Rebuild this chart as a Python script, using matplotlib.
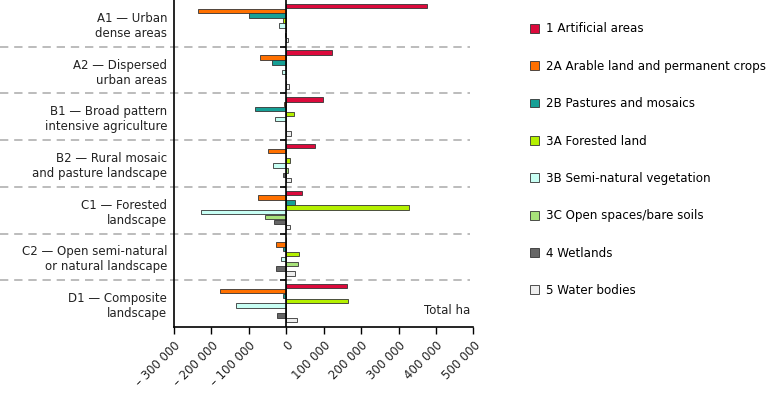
import numpy as np
import matplotlib.pyplot as plt
from matplotlib.patches import Patch
from matplotlib.lines import Line2D

# Landscape types (top to bottom)
groups = ["A1 \u2014 Urban\ndense areas",
          "A2 \u2014 Dispersed\nurban areas",
          "B1 \u2014 Broad pattern\nintensive agriculture",
          "B2 \u2014 Rural mosaic\nand pasture landscape",
          "C1 \u2014 Forested\nlandscape",
          "C2 \u2014 Open semi-natural\nor natural landscape",
          "D1 \u2014 Composite\nlandscape"]

series = ["1 Artificial areas",
          "2A Arable land and permanent crops",
          "2B Pastures and mosaics",
          "3A Forested land",
          "3B Semi-natural vegetation",
          "3C Open spaces/bare soils",
          "4 Wetlands",
          "5 Water bodies"]

colors = ["#dc0a3c", "#ff7000", "#16a096", "#b4f000",
          "#c8fff4", "#a8e27a", "#666666", "#eeeeee"]

# net change in ha, one list per landscape type, order as in `series`
a1 = [375000, -235000, -100000, -9000, -20000, 0, -4000, 5000]
a2 = [123000, -71000, -39000, 0, -12500, 0, 0, 6000]
b1 = [98000, -7000, -83000, 20000, -30000, 0, -2000, 11500]
b2 = [76000, -48000, 0, 9000, -36500, 3500, -10000, 11500]
c1 = [42000, -75500, 23000, 329000, -227000, -57000, -34000, 9000]
c2 = [-2000, -27500, -10000, 35000, -15000, 30000, -28500, 22000]
d1 = [163000, -176000, -10000, 163500, -134000, 0, -25000, 29000]

xticks = [-300000, -200000, -100000, 0, 100000, 200000, 300000, 400000, 500000]


def fmt(v):
    s = "{:,}".format(abs(v)).replace(",", " ")
    return ("\u2013 " + s) if v < 0 else s


plt.rcParams['font.family'] = ['DejaVu Sans']
fig = plt.figure(figsize=(7.68, 3.93), dpi=100)
ax = fig.add_axes([0.2266, 0.168, 0.3899, 0.832])

data = np.array([a1, a2, b1, b2, c1, c2, d1])
y = np.arange(len(groups))
step = 0.104
for j, name in enumerate(series):
    off = (j - 3.5) * step - 0.01
    ax.barh(y + off, data[:, j], height=0.095, color=colors[j],
            edgecolor="#333333", linewidth=0.6, label=name, zorder=3)

ax.set_ylim(len(groups) - 0.5, -0.5)
ax.set_xlim(-300000, 500000)
ax.set_yticks(y)
ax.set_yticklabels(groups, fontsize=8.5, ha="right", color="#222222")
ax.tick_params(axis="y", length=0, pad=5)

ax.set_xticks(xticks)
ax.set_xticklabels([fmt(v) for v in xticks], rotation=45, ha="right",
                   rotation_mode="anchor", fontsize=8.5, color="#222222")
ax.tick_params(axis="x", length=5, width=1, direction="out")

for s in ["top", "right"]:
    ax.spines[s].set_visible(False)
ax.spines["left"].set_linewidth(1.2)
ax.spines["bottom"].set_linewidth(1.2)

# zero line with small ticks at group borders
ax.axvline(0, color="black", linewidth=1.2, zorder=4)
borders = np.arange(len(groups) - 1) + 0.5
ax.hlines(borders, -16000, 0, color="black", linewidth=1.2, zorder=4)

# dashed separators running through the label area too
for b in borders:
    ax.add_line(Line2D([-0.58, 0.99], [b, b], transform=ax.get_yaxis_transform(),
                       color="#b0b0b0", linestyle=(0, (5, 3.5)),
                       linewidth=1.2, clip_on=False, zorder=1))

ax.text(0.99, 0.05, "Total ha", transform=ax.transAxes, ha="right",
        va="center", fontsize=8.5, color="#222222")

handles = [Patch(facecolor=c, edgecolor="#333333", linewidth=0.6) for c in colors]
fig.legend(handles, series, loc="upper left", bbox_to_anchor=(0.684, 0.955),
           frameon=False, fontsize=8.6, handlelength=0.75, handleheight=0.75,
           handletextpad=0.6, labelspacing=2.04, borderaxespad=0)

fig.savefig("out.png", dpi=100)
